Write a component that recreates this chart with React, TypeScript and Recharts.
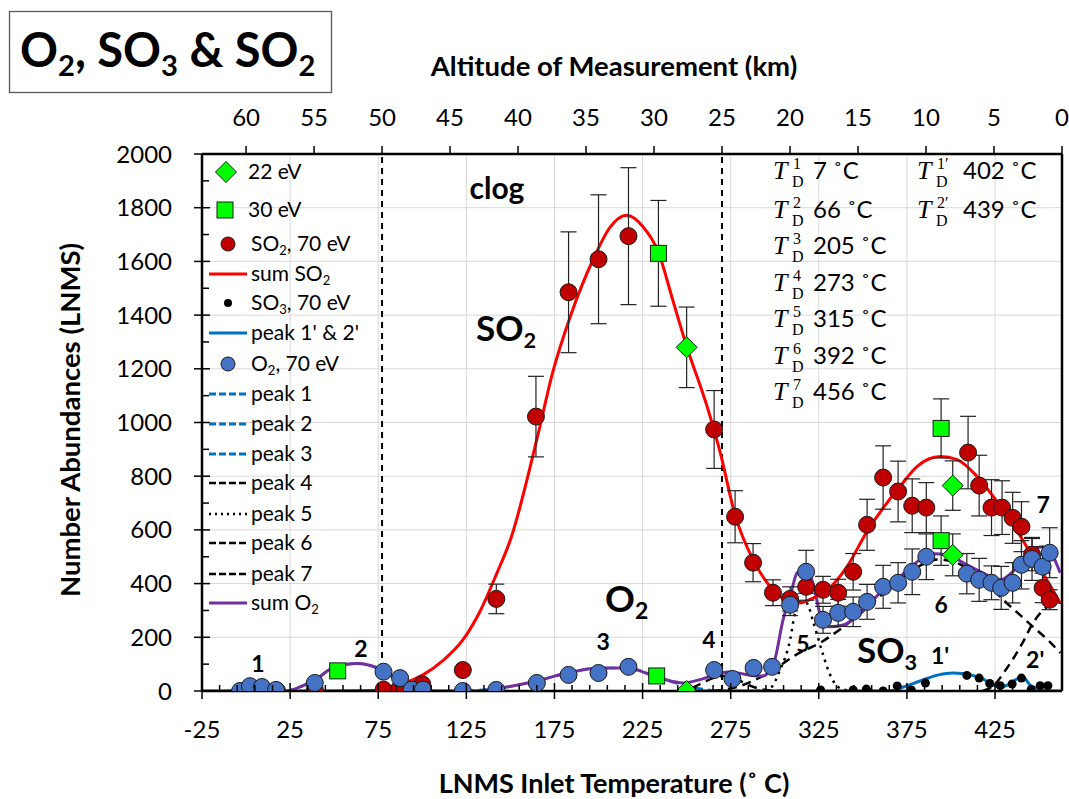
import React from "react";
import {
  ComposedChart,
  Line,
  Scatter,
  XAxis,
  YAxis,
  CartesianGrid,
  ReferenceLine,
  ReferenceDot,
  ErrorBar,
  Legend,
} from "recharts";

const W = 1069;
const H = 799;
const FONT = "Lato, 'Liberation Sans', sans-serif";
const MATH_FONT = "'Liberation Serif', 'DejaVu Serif', serif";

// temperature scale (bottom) and altitude scale (top)
const T_MIN = -25;
const T_MAX = 463;
const Y_MAX = 2000;
const ALT_TOP = 60;
const altToTemp = (km: number) => T_MAX * (1 - km / ALT_TOP);

const X_MAJOR = [-25, 25, 75, 125, 175, 225, 275, 325, 375, 425];
const X_TICKS: number[] = [];
for (let t = -25; t <= 455; t += 10) X_TICKS.push(t);
const Y_MAJOR = [0, 200, 400, 600, 800, 1000, 1200, 1400, 1600, 1800, 2000];
const Y_TICKS: number[] = [];
for (let v = 0; v <= 2000; v += 100) Y_TICKS.push(v);
const ALT_TICKS = [60, 55, 50, 45, 40, 35, 30, 25, 20, 15, 10, 5, 0];
const CLOG_ALTS = [50, 25];

// [temperature, abundance, error]
const SO2_70: number[][] = [
  [17.6, 0], [39, 5], [78, 5], [87, 8], [100, 25], [123, 78], [142, 343, 55],
  [164.5, 1022, 150], [183, 1485, 225], [200, 1608, 240], [217, 1694, 255],
  [265.6, 974, 145], [277.5, 649, 97], [287.7, 478, 71], [299, 366, 48],
  [308.7, 343, 45], [317.8, 388, 50], [327.4, 377, 50], [336, 366, 50],
  [344.5, 444, 68], [352.4, 619, 95], [361.5, 795, 118], [370, 743, 113],
  [378, 690, 100], [386, 683, 93], [409.7, 888, 135], [416, 765, 113],
  [423, 683, 104], [429, 683, 100], [435, 645, 95], [440, 612, 93],
  [446, 508, 60], [452, 384, 55], [456, 340, 37],
];

const O2_70: number[][] = [
  [-3.4, 0], [2.2, 18], [9, 15], [17, 4], [39, 30], [78, 72], [87.4, 48],
  [94, 5], [100.4, 5], [123, 0], [142, 4], [165, 30], [183, 60], [200, 67],
  [217, 90], [265.6, 78], [276, 45], [288, 86], [298.5, 90], [308.7, 321, 40],
  [317.8, 444, 80], [327.4, 265, 50], [336, 291, 50], [344.5, 295, 55],
  [352.4, 332, 65], [361.5, 388, 80], [370, 403, 75], [378, 444, 85],
  [386, 500, 85], [409, 437, 75], [416, 414, 80], [423, 403, 63],
  [428.5, 384, 80], [435, 403, 75], [440, 470, 90], [446, 492, 80],
  [452, 463, 75], [456, 515, 93],
];

const SO3_70: number[][] = [
  [326, 4], [344.5, 4], [352, 7], [361.5, 0], [369.5, 19], [377.5, 4],
  [385.5, 30], [409, 58], [416, 48], [422, 28], [428, 20], [434.7, 26],
  [440, 48], [445.5, 6], [450.6, 20], [455, 20],
];

const EV30: number[][] = [
  [52, 75], [233, 56], [234, 1630, 197], [394.4, 978, 110], [394.4, 560, 92],
];

const EV22: number[][] = [
  [250, 1280, 150], [250, 0], [401, 765, 92], [401, 507, 78],
];

// fitted curves
const SUM_SO2: number[][] = [
  [30, 0], [75, 2], [81.7, 15], [90, 30], [100.4, 60], [112, 115], [123, 190],
  [133, 300], [142.4, 440], [150, 563], [165, 937], [174, 1187], [184, 1395],
  [197, 1608], [206.5, 1727], [216, 1772], [225, 1731], [234, 1634],
  [242, 1459], [250, 1284], [261.6, 1060], [265, 985], [269, 890],
  [277.5, 655], [287.7, 489], [299, 377], [308.7, 332], [314, 328],
  [322, 347], [330, 377], [341, 463], [352, 590], [363.7, 701], [371, 761],
  [380.7, 836], [394, 873], [403.5, 862], [414.8, 799], [424, 724],
  [433.6, 638], [443, 537], [452, 440], [462, 328],
];

const SUM_O2: number[][] = [
  [-25, 0], [23, 0], [30.6, 15], [39, 41], [49, 86], [57, 100], [63, 102],
  [71.5, 93], [81.7, 60], [91, 15], [104, 0], [129, 0], [148, 15], [167, 41],
  [182, 67], [201, 86], [216, 86], [235, 48], [248, 30], [259, 45], [267, 62],
  [273, 71], [280, 66], [287, 58], [293.4, 56], [297, 75], [300, 116],
  [304.7, 265], [308.7, 351], [312.7, 440], [318, 459], [322.6, 377],
  [326.6, 265], [331, 239], [339, 246], [348.5, 291], [360, 366], [371, 425],
  [382.5, 489], [390, 511], [398, 507], [409, 470], [418, 440], [428, 414],
  [435, 444], [443, 507], [452, 537], [458, 500], [462, 440],
];

const PEAK_1: number[][] = [[-12, 0], [-2, 2], [4, 5], [9, 6], [14, 5], [20, 2], [30, 0]];
const PEAK_2: number[][] = [
  [23, 0], [30.6, 15], [39, 41], [49, 86], [57, 100], [63, 102], [71.5, 93],
  [81.7, 60], [91, 15], [100, 2], [110, 0],
];
const PEAK_3: number[][] = [
  [125, 0], [148, 15], [167, 41], [182, 67], [201, 86], [216, 86], [235, 48],
  [248, 22], [262, 5], [275, 0],
];
const PEAK_4: number[][] = [
  [245, 0], [250, 4], [259, 30], [265, 48], [271, 56], [279, 41], [288, 15],
  [297, 2], [305, 0],
];
const PEAK_5: number[][] = [
  [290, 0], [297, 8], [303, 78], [308.7, 190], [311.5, 291], [314.3, 332],
  [318, 328], [322, 254], [326.6, 153], [331, 67], [336, 15], [343, 0],
];
const PEAK_6: number[][] = [
  [265, 0], [278.6, 15], [290, 45], [299, 78], [314, 142], [325.7, 179],
  [335, 220], [348, 285], [360, 355], [371, 415], [382, 465], [392, 490],
  [402, 480], [412, 445], [420, 405], [429.6, 340], [438, 290], [446.6, 239],
  [455, 190], [462, 142],
];
const PEAK_7: number[][] = [
  [418, 0], [424, 19], [431, 78], [440.6, 179], [446.6, 254], [454.5, 313],
  [460, 328], [463, 330],
];
const PEAK_1P_2P: number[][] = [
  [250, 0], [360, 0], [367, 2], [373, 15], [384, 41], [393, 60], [401, 67],
  [411, 60], [418, 45], [422, 30], [428, 15], [433, 25], [438.5, 48],
  [441, 50], [445, 22], [452.5, 4], [458, 0], [463, 0],
];

// decomposition temperatures
const TD_PEAKS = ["1", "2", "3", "4", "5", "6", "7"];
const TD_TEMPS = [7, 66, 205, 273, 315, 392, 456];
const TD_PRIME_PEAKS = ["1\u2032", "2\u2032"];
const TD_PRIME_TEMPS = [402, 439];

// text placed in the plot: [temperature, abundance, text, size, anchor]
const NOTES: [number, number, string, number, string][] = [
  [142.4, 1832, "clog", 30, "middle"],
  [130.5, 1302, "SO_2", 35, "start"],
  [203.7, 295, "O_2", 37, "start"],
  [346.7, 104, "SO_3", 35, "start"],
  [6.8, 71, "1", 23, "middle"],
  [65.2, 127, "2", 23, "middle"],
  [202.6, 153, "3", 23, "middle"],
  [262.7, 160, "4", 23, "middle"],
  [316, 146, "5", 23, "middle"],
  [394.4, 291, "6", 23, "middle"],
  [452.3, 664, "7", 23, "middle"],
  [393.8, 101, "1'", 23, "middle"],
  [447.8, 86, "2'", 23, "middle"],
];

const LEGEND_ITEMS = [
  { label: "22 eV", kind: "diamond", y: 16 },
  { label: "30 eV", kind: "square", y: 54 },
  { label: "SO_2, 70 eV", kind: "red", y: 88 },
  { label: "sum SO_2", kind: "redLine", y: 118 },
  { label: "SO_3, 70 eV", kind: "black", y: 147 },
  { label: "peak 1' & 2'", kind: "blueLine", y: 177 },
  { label: "O_2, 70 eV", kind: "blue", y: 208 },
  { label: "peak 1", kind: "blueDash", y: 238 },
  { label: "peak 2", kind: "blueDash", y: 268 },
  { label: "peak 3", kind: "blueDash", y: 298 },
  { label: "peak 4", kind: "blackDash", y: 327 },
  { label: "peak 5", kind: "dotted", y: 358 },
  { label: "peak 6", kind: "blackDash", y: 387 },
  { label: "peak 7", kind: "blackDash", y: 418 },
  { label: "sum O_2", kind: "purpleLine", y: 447 },
];

const RED = "#ff0000";
const DARK_RED = "#c00000";
const BLUE_DOT = "#4472c4";
const BLUE_LINE = "#0070c0";
const PURPLE = "#7030a0";
const GREEN = "#00ff00";
const EDGE = "#1a1a1a";

const pts = (rows: number[][]) => rows.map(([t, v, err]) => ({ t, v, err: err ?? 0 }));
const curve = (rows: number[][]) => rows.map(([t, v]) => ({ t, v }));
// anchors the altitude axis to its own tick positions
const altAnchors = ALT_TICKS.map((km) => ({ t: altToTemp(km), v: 0 }));

// text with "_n" subscripts
function rich(text: string, size: number) {
  const parts = text.split(/_(\d)/);
  const sub = size * 0.62;
  const shift = size * 0.2;
  return parts.map((p, i) =>
    i % 2 === 1 ? (
      <tspan key={i} fontSize={sub} dy={shift}>{p}</tspan>
    ) : (
      <tspan key={i} dy={i === 0 ? 0 : -shift}>{p}</tspan>
    )
  );
}

function BottomTick(p: any) {
  const { x, y, payload } = p;
  const major = X_MAJOR.includes(payload.value);
  return (
    <g>
      <line x1={x} x2={x} y1={major ? y - 8 : y - 6} y2={major ? y + 8 : y} stroke="#000" strokeWidth={1.5} />
      {major && (
        <text x={x} y={y + 47} textAnchor="middle" fontSize={24} fontFamily={FONT} fill="#000">
          {payload.value}
        </text>
      )}
    </g>
  );
}

function LeftTick(p: any) {
  const { x, y, payload } = p;
  const major = Y_MAJOR.includes(payload.value);
  return (
    <g>
      <line x1={major ? x - 8 : x} x2={major ? x + 8 : x + 7} y1={y} y2={y} stroke="#000" strokeWidth={1.5} />
      {major && (
        <text x={x - 30} y={y + 8.5} textAnchor="end" fontSize={24} fontFamily={FONT} fill="#000">
          {payload.value}
        </text>
      )}
    </g>
  );
}

const dot = (fill: string, r: number) => (p: any) => (
  <circle cx={p.cx} cy={p.cy} r={r} fill={fill} stroke={EDGE} strokeWidth={1} />
);
const diamond = (p: any) => (
  <polygon
    points={`${p.cx},${p.cy - 10.5} ${p.cx + 10.5},${p.cy} ${p.cx},${p.cy + 10.5} ${p.cx - 10.5},${p.cy}`}
    fill={GREEN}
    stroke={EDGE}
    strokeWidth={1}
  />
);
const square = (p: any) => (
  <rect x={p.cx - 8} y={p.cy - 8} width={16} height={16} fill={GREEN} stroke={EDGE} strokeWidth={1} />
);

// one "T_D^n  value °C" entry: superscript and subscript stacked after the T
function TdRow({ x, y, peak, temp }: any) {
  return (
    <g fill="#000">
      <text x={x} y={y} fontFamily={MATH_FONT} fontStyle="italic" fontSize={26}>T</text>
      <text x={x + 20} y={y - 10} fontFamily={MATH_FONT} fontSize={16}>{peak}</text>
      <text x={x + 19} y={y + 8.5} fontFamily={MATH_FONT} fontSize={16}>D</text>
      <text x={x + (peak.length > 1 ? 46 : 40)} y={y} fontFamily={FONT} fontSize={24}>{`${temp} \u02DAC`}</text>
    </g>
  );
}

const TD_ROW_DY = [0, 39, 75, 112, 148, 185, 221];

function TdBlock({ x, y }: any) {
  return (
    <g>
      {TD_PEAKS.map((pk, i) => (
        <TdRow key={pk} x={x} y={y + TD_ROW_DY[i]} peak={pk} temp={TD_TEMPS[i]} />
      ))}
      {TD_PRIME_PEAKS.map((pk, i) => (
        <TdRow key={pk} x={x + 144} y={y + TD_ROW_DY[i]} peak={pk} temp={TD_PRIME_TEMPS[i]} />
      ))}
    </g>
  );
}

function LegendSymbol({ kind, y }: any) {
  const line = (stroke: string, dash?: string, w = 3) => (
    <line x1={6} x2={44} y1={y} y2={y} stroke={stroke} strokeWidth={w} strokeDasharray={dash} />
  );
  switch (kind) {
    case "diamond":
      return diamond({ cx: 23, cy: y });
    case "square":
      return square({ cx: 22, cy: y });
    case "red":
      return dot(DARK_RED, 7)({ cx: 25, cy: y });
    case "blue":
      return dot(BLUE_DOT, 7)({ cx: 25, cy: y });
    case "black":
      return <circle cx={25} cy={y} r={4} fill="#000" />;
    case "redLine":
      return line(RED);
    case "blueLine":
      return line(BLUE_LINE);
    case "purpleLine":
      return line(PURPLE);
    case "blueDash":
      return line(BLUE_LINE, "7 3");
    case "blackDash":
      return line("#000", "7 3", 2.5);
    case "dotted":
      return line("#000", "2 4", 2.5);
    default:
      return null;
  }
}

function LegendBox() {
  return (
    <svg width={180} height={460} style={{ display: "block" }}>
      {LEGEND_ITEMS.map((it) => (
        <g key={it.label}>
          <LegendSymbol kind={it.kind} y={it.y} />
          <text
            x={it.kind === "diamond" || it.kind === "square" ? 45 : 48}
            y={it.y + 7}
            fontFamily={FONT}
            fontSize={21}
            fill="#000"
          >
            {rich(it.label, 21)}
          </text>
        </g>
      ))}
    </svg>
  );
}

export default function App() {
  return (
    <div style={{ position: "absolute", left: 0, top: 0, width: W, height: H, background: "#fff" }}>
      <ComposedChart width={W} height={H} margin={{ top: 124, right: 7, bottom: 78, left: 142 }}>
        <CartesianGrid stroke="#d9d9d9" strokeWidth={1} horizontalValues={Y_MAJOR} verticalValues={X_MAJOR} />
        {CLOG_ALTS.map((km) => (
          <ReferenceLine key={km} x={altToTemp(km)} stroke="#000" strokeWidth={2} strokeDasharray="6 5" />
        ))}
        <ReferenceLine x={T_MAX} stroke="#000" strokeWidth={2.5} />

        <Line xAxisId="top" data={altAnchors} dataKey="v" stroke="none" dot={false} activeDot={false} isAnimationActive={false} legendType="none" />

        <Line data={curve(PEAK_1)} dataKey="v" type="monotone" stroke={BLUE_LINE} strokeWidth={2.5} strokeDasharray="8 5" dot={false} activeDot={false} isAnimationActive={false} />
        <Line data={curve(PEAK_2)} dataKey="v" type="monotone" stroke={BLUE_LINE} strokeWidth={2.5} strokeDasharray="8 5" dot={false} activeDot={false} isAnimationActive={false} />
        <Line data={curve(PEAK_3)} dataKey="v" type="monotone" stroke={BLUE_LINE} strokeWidth={2.5} strokeDasharray="8 5" dot={false} activeDot={false} isAnimationActive={false} />
        <Line data={curve(PEAK_1P_2P)} dataKey="v" type="monotone" stroke={BLUE_LINE} strokeWidth={3} dot={false} activeDot={false} isAnimationActive={false} />
        <Line data={curve(PEAK_4)} dataKey="v" type="monotone" stroke="#000" strokeWidth={2.5} strokeDasharray="9 6" dot={false} activeDot={false} isAnimationActive={false} />
        <Line data={curve(PEAK_5)} dataKey="v" type="monotone" stroke="#000" strokeWidth={2.5} strokeDasharray="2.5 5" dot={false} activeDot={false} isAnimationActive={false} />
        <Line data={curve(PEAK_6)} dataKey="v" type="monotone" stroke="#000" strokeWidth={2.5} strokeDasharray="9 6" dot={false} activeDot={false} isAnimationActive={false} />
        <Line data={curve(PEAK_7)} dataKey="v" type="monotone" stroke="#000" strokeWidth={2.5} strokeDasharray="9 6" dot={false} activeDot={false} isAnimationActive={false} />
        <Line data={curve(SUM_O2)} dataKey="v" type="monotone" stroke={PURPLE} strokeWidth={3} dot={false} activeDot={false} isAnimationActive={false} />
        <Line data={curve(SUM_SO2)} dataKey="v" type="monotone" stroke={RED} strokeWidth={3} dot={false} activeDot={false} isAnimationActive={false} />

        <XAxis
          dataKey="t"
          type="number"
          domain={[T_MIN, T_MAX]}
          allowDataOverflow
          ticks={X_TICKS}
          interval={0}
          tickLine={false}
          tickSize={0}
          tickMargin={0}
          tick={(p: any) => <BottomTick {...p} />}
          axisLine={{ stroke: "#000", strokeWidth: 2.5 }}
          height={30}
        />
        <XAxis
          xAxisId="top"
          dataKey="t"
          orientation="top"
          type="number"
          domain={[T_MIN, T_MAX]}
          allowDataOverflow
          ticks={ALT_TICKS.map(altToTemp)}
          interval={0}
          tickFormatter={(t: number) => String(Math.round(ALT_TOP * (1 - t / T_MAX)))}
          tickSize={8}
          tickMargin={20}
          tickLine={{ stroke: "#000", strokeWidth: 1.5 }}
          tick={{ fill: "#000", fontSize: 24, fontFamily: FONT }}
          axisLine={{ stroke: "#000", strokeWidth: 2.5 }}
          height={30}
        />
        <YAxis
          type="number"
          domain={[0, Y_MAX]}
          allowDataOverflow
          ticks={Y_TICKS}
          interval={0}
          tickLine={false}
          tickSize={0}
          tickMargin={0}
          tick={(p: any) => <LeftTick {...p} />}
          axisLine={{ stroke: "#000", strokeWidth: 2.5 }}
          width={60}
        />

        <Scatter data={pts(SO2_70)} dataKey="v" shape={dot(DARK_RED, 8.5)} isAnimationActive={false}>
          <ErrorBar dataKey="err" direction="y" width={8} stroke="#222" strokeWidth={1.2} />
        </Scatter>
        <Scatter data={pts(O2_70)} dataKey="v" shape={dot(BLUE_DOT, 8.5)} isAnimationActive={false}>
          <ErrorBar dataKey="err" direction="y" width={8} stroke="#222" strokeWidth={1.2} />
        </Scatter>
        <Scatter data={pts(SO3_70)} dataKey="v" shape={(p: any) => <circle cx={p.cx} cy={p.cy} r={4.5} fill="#000" />} isAnimationActive={false} />
        <Scatter data={pts(EV30)} dataKey="v" shape={square} isAnimationActive={false}>
          <ErrorBar dataKey="err" direction="y" width={8} stroke="#222" strokeWidth={1.2} />
        </Scatter>
        <Scatter data={pts(EV22)} dataKey="v" shape={diamond} isAnimationActive={false}>
          <ErrorBar dataKey="err" direction="y" width={8} stroke="#222" strokeWidth={1.2} />
        </Scatter>

        {NOTES.map(([t, v, text, size, anchor]) => (
          <ReferenceDot
            key={text + t}
            x={t}
            y={v}
            r={0}
            shape={(p: any) => (
              <text x={p.cx} y={p.cy} textAnchor={anchor} fontFamily={FONT} fontWeight={700} fontSize={size} fill="#000">
                {rich(text, size)}
              </text>
            )}
          />
        ))}
        <ReferenceDot x={299} y={1907} r={0} shape={(p: any) => <TdBlock x={p.cx} y={p.cy} />} />

        <Legend
          layout="vertical"
          align="center"
          verticalAlign="middle"
          wrapperStyle={{ left: 203, top: 156, width: 180, height: 460 }}
          content={() => <LegendBox />}
        />
      </ComposedChart>

      <svg width={W} height={H} style={{ position: "absolute", left: 0, top: 0, pointerEvents: "none" }}>
        <rect x={9.5} y={11.5} width={322} height={81} fill="#fff" stroke="#595959" strokeWidth={1.3} />
        <text x={20} y={67} fontFamily={FONT} fontWeight={700} fontSize={47} fill="#000">
          {rich("O_2, SO_3 & SO_2", 47)}
        </text>
        <text x={614} y={76} textAnchor="middle" fontFamily={FONT} fontWeight={700} fontSize={27.5} fill="#000">
          Altitude of Measurement (km)
        </text>
        <text x={614} y={793} textAnchor="middle" fontFamily={FONT} fontWeight={700} fontSize={27} fill="#000">
          LNMS Inlet Temperature ({"\u02DA"} C)
        </text>
        <text
          transform="translate(80,420) rotate(-90)"
          textAnchor="middle"
          fontFamily={FONT}
          fontWeight={700}
          fontSize={27.5}
          fill="#000"
        >
          Number Abundances (LNMS)
        </text>
      </svg>
    </div>
  );
}
